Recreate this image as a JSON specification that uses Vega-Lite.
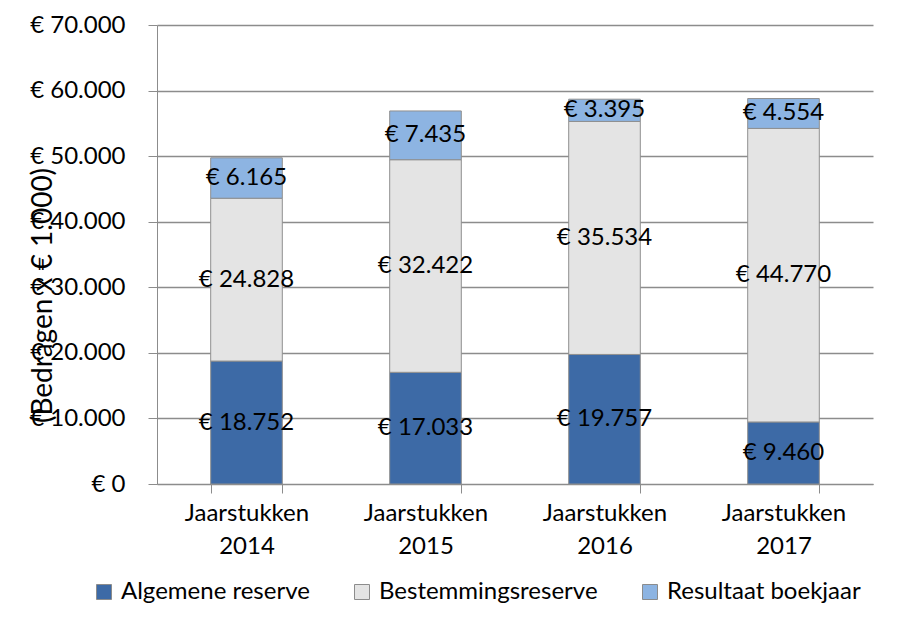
{
  "$schema": "https://vega.github.io/schema/vega-lite/v6.json",
  "width": 716,
  "height": 459,
  "autosize": {"type": "none"},
  "padding": {"left": 157, "top": 25, "right": 39, "bottom": 135},
  "background": "white",
  "config": {
    "font": "Lato",
    "view": {"stroke": null},
    "locale": {"number": {"decimal": ",", "thousands": ".", "grouping": [3], "currency": ["€ ", ""]}}
  },
  "data": {
    "values": [
      {"jaar": "Jaarstukken 2014", "reserve": "Algemene reserve", "k": 0, "value": 18752},
      {"jaar": "Jaarstukken 2014", "reserve": "Bestemmingsreserve", "k": 1, "value": 24828},
      {"jaar": "Jaarstukken 2014", "reserve": "Resultaat boekjaar", "k": 2, "value": 6165},
      {"jaar": "Jaarstukken 2015", "reserve": "Algemene reserve", "k": 0, "value": 17033},
      {"jaar": "Jaarstukken 2015", "reserve": "Bestemmingsreserve", "k": 1, "value": 32422},
      {"jaar": "Jaarstukken 2015", "reserve": "Resultaat boekjaar", "k": 2, "value": 7435},
      {"jaar": "Jaarstukken 2016", "reserve": "Algemene reserve", "k": 0, "value": 19757},
      {"jaar": "Jaarstukken 2016", "reserve": "Bestemmingsreserve", "k": 1, "value": 35534},
      {"jaar": "Jaarstukken 2016", "reserve": "Resultaat boekjaar", "k": 2, "value": 3395},
      {"jaar": "Jaarstukken 2017", "reserve": "Algemene reserve", "k": 0, "value": 9460},
      {"jaar": "Jaarstukken 2017", "reserve": "Bestemmingsreserve", "k": 1, "value": 44770},
      {"jaar": "Jaarstukken 2017", "reserve": "Resultaat boekjaar", "k": 2, "value": 4554}
    ]
  },
  "transform": [
    {"stack": "value", "groupby": ["jaar"], "sort": [{"field": "k", "order": "ascending"}], "as": ["y0", "y1"]},
    {"calculate": "(datum.y0 + datum.y1) / 2", "as": "ymid"}
  ],
  "encoding": {
    "x": {
      "field": "jaar",
      "type": "nominal",
      "scale": {"paddingInner": 0.6, "paddingOuter": 0.3},
      "axis": {
        "title": null,
        "labelExpr": "split(datum.label, ' ')",
        "labelFontSize": 24,
        "labelLineHeight": 33,
        "labelColor": "black",
        "labelPadding": 8,
        "labelAngle": 0,
        "tickBand": "extent",
        "tickSize": 9,
        "tickColor": "#8c8c8c",
        "domainColor": "#8c8c8c",
        "grid": false
      }
    }
  },
  "layer": [
    {
      "mark": {"type": "bar", "stroke": "#8f8f8f", "strokeWidth": 1},
      "encoding": {
        "y": {
          "field": "y0",
          "type": "quantitative",
          "scale": {"domain": [0, 70000], "nice": false},
          "axis": {
            "title": "(Bedragen x € 1.000)",
            "titleFontSize": 28,
            "titleFontWeight": "normal",
            "titleColor": "black",
            "titleAngle": 270,
            "titleX": -114,
            "titleY": 270,
            "titleAlign": "center",
            "titleBaseline": "middle",
            "values": [0, 10000, 20000, 30000, 40000, 50000, 60000, 70000],
            "format": "$,.0f",
            "labelFontSize": 24,
            "labelColor": "black",
            "labelPadding": 23,
            "tickSize": 9,
            "tickColor": "#8c8c8c",
            "domainColor": "#8c8c8c",
            "grid": true,
            "gridColor": "#8c8c8c",
            "gridWidth": 1.5
          }
        },
        "y2": {"field": "y1"},
        "order": {"field": "k"},
        "color": {
          "field": "reserve",
          "type": "nominal",
          "scale": {
            "domain": ["Algemene reserve", "Bestemmingsreserve", "Resultaat boekjaar"],
            "range": ["#3d6aa6", "#e4e4e4", "#8db4e2"]
          },
          "legend": {
            "title": null,
            "orient": "none",
            "legendX": -65,
            "legendY": 555,
            "direction": "horizontal",
            "symbolType": "square",
            "symbolSize": 225,
            "symbolStrokeColor": "#8c8c8c",
            "symbolStrokeWidth": 1,
            "symbolOpacity": 1,
            "labelFontSize": 24,
            "labelColor": "black",
            "labelLimit": 400,
            "labelOffset": 5,
            "columnPadding": 40,
            "padding": 0
          }
        }
      }
    },
    {
      "mark": {"type": "text", "fontSize": 24, "color": "black", "baseline": "middle"},
      "encoding": {
        "y": {"field": "ymid", "type": "quantitative"},
        "text": {"field": "value", "type": "quantitative", "format": "$,.0f"}
      }
    }
  ]
}
